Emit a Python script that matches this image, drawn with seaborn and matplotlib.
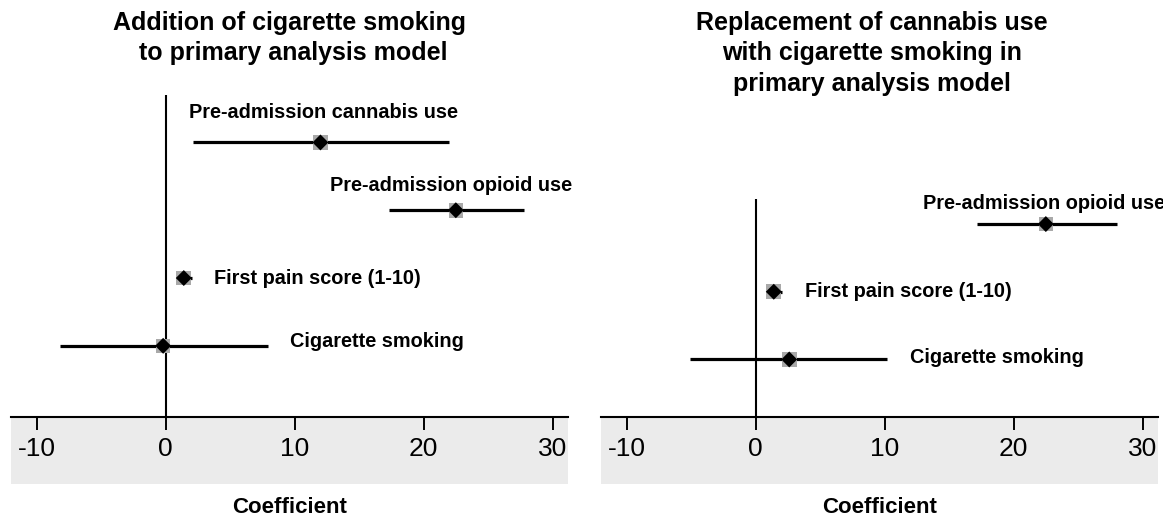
import matplotlib
matplotlib.use("Agg")
import matplotlib.pyplot as plt
import seaborn as sns
import pandas as pd
from matplotlib.patches import Rectangle

sns.set_theme(style="white")
plt.rcParams["font.family"] = ["Liberation Sans", "DejaVu Sans"]
plt.rcParams["text.color"] = "black"
plt.rcParams["axes.labelcolor"] = "black"
plt.rcParams["xtick.color"] = "black"

# Model 1: cigarette smoking added to the primary model
m1_terms = ["Pre-admission cannabis use", "Pre-admission opioid use",
            "First pain score (1-10)", "Cigarette smoking"]
m1_coef = [12.0, 22.5, 1.4, -0.2]
m1_low = [2.1, 17.3, 0.8, -8.2]
m1_high = [22.0, 27.8, 2.0, 7.9]

# Model 2: cannabis use replaced with cigarette smoking
m2_terms = ["Pre-admission opioid use", "First pain score (1-10)", "Cigarette smoking"]
m2_coef = [22.5, 1.4, 2.6]
m2_low = [17.2, 0.8, -5.1]
m2_high = [28.0, 2.0, 10.2]

xticks = [-10, 0, 10, 20, 30]
titles = ["Addition of cigarette smoking\n to primary analysis model",
          "Replacement of cannabis use\nwith cigarette smoking in\nprimary analysis model"]

W, H = 1163, 516
fig = plt.figure(figsize=(W / 100, H / 100), dpi=100)


def px_axes(x0, x1, ytop, ybot):
    return fig.add_axes([x0 / W, (H - ybot) / H, (x1 - x0) / W, (ybot - ytop) / H])


ax1 = px_axes(11, 568, 95, 417)
ax2 = px_axes(601, 1158, 199, 417)

# label anchor (x, y offset from row) for each term
label_layout1 = [(1.8, 0.44), (12.75, 0.36), (3.75, 0.0), (9.6, 0.06)]
label_layout2 = [(12.95, 0.31), (3.8, 0.0), (11.95, 0.03)]


def forest(ax, terms, coef, low, high, layout, ylim):
    n = len(terms)
    df = pd.DataFrame({"term": terms, "coef": coef, "low": low, "high": high,
                       "row": list(range(n, 0, -1))})
    ax.axvline(0, color="black", lw=1.5, zorder=1)
    ax.hlines(df["row"], df["low"], df["high"], color="black", lw=2.3, zorder=2)
    sns.scatterplot(data=df, x="coef", y="row", marker="s", s=110, color="#a9a9a9",
                    edgecolor="none", linewidth=0, ax=ax, zorder=3)
    sns.scatterplot(data=df, x="coef", y="row", marker="D", s=66, color="black",
                    edgecolor="none", linewidth=0, ax=ax, zorder=4)
    for (lx, dy), term, r in zip(layout, df["term"], df["row"]):
        ax.text(lx, r + dy, term, fontsize=14.3, fontweight="bold",
                ha="left", va="center", clip_on=False)
    ax.set_xlim(-12.0, 31.2)
    ax.set_ylim(*ylim)
    ax.set_xticks(xticks)
    ax.set_xticklabels([str(t) for t in xticks])
    ax.set_yticks([])
    ax.set_ylabel("")
    ax.set_xlabel("Coefficient", fontsize=16, fontweight="bold", labelpad=26)
    for side in ["left", "right", "top"]:
        ax.spines[side].set_visible(False)
    ax.spines["bottom"].set_color("black")
    ax.spines["bottom"].set_linewidth(1.5)
    ax.tick_params(axis="x", direction="out", length=9.5, width=1.4, color="black",
                   labelsize=19, labelcolor="black", pad=5, bottom=True)
    ax.set_facecolor("none")
    # grey band under the axis behind the tick labels
    h_axes = ax.get_position().height * H
    band = Rectangle((0, -67 / h_axes), 1, 67 / h_axes, transform=ax.transAxes,
                     facecolor="#ebebeb", edgecolor="none", clip_on=False, zorder=-5)
    ax.add_patch(band)


forest(ax1, m1_terms, m1_coef, m1_low, m1_high, label_layout1, (-0.05, 4.70))
forest(ax2, m2_terms, m2_coef, m2_low, m2_high, label_layout2, (0.15, 3.37))

fig.text(289.5 / W, 1 - 11 / H, titles[0], ha="center", va="top",
         fontsize=18, fontweight="bold", linespacing=1.33)
fig.text(872 / W, 1 - 11 / H, titles[1], ha="center", va="top",
         fontsize=18, fontweight="bold", linespacing=1.33)

fig.savefig("out.png", dpi=100)
